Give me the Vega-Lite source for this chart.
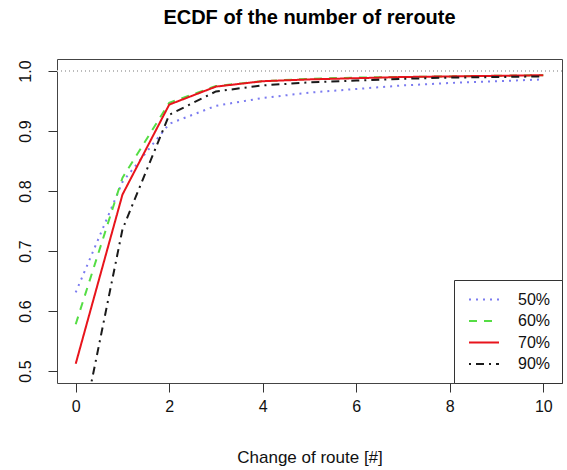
{
  "$schema": "https://vega.github.io/schema/vega-lite/v6.json",
  "width": 505,
  "height": 324,
  "autosize": {"type": "none"},
  "padding": {"left": 57, "top": 59, "right": 5, "bottom": 87},
  "background": "white",
  "title": {
    "text": "ECDF of the number of reroute",
    "font": "Liberation Sans",
    "fontSize": 20,
    "fontWeight": "bold",
    "color": "black",
    "anchor": "middle",
    "offset": 31
  },
  "config": {
    "view": {"stroke": "#444", "strokeWidth": 1},
    "font": "Liberation Sans",
    "axis": {
      "domain": false,
      "grid": false,
      "tickColor": "#333",
      "tickSize": 9,
      "labelColor": "#111",
      "labelFont": "Liberation Sans",
      "labelFontSize": 16,
      "titleFont": "Liberation Sans",
      "titleFontWeight": "normal",
      "titleColor": "#111",
      "titleFontSize": 17
    }
  },
  "data": {
    "values": [
      {"x": 0, "v": 0.631, "s": "50%"}, {"x": 1, "v": 0.815, "s": "50%"}, {"x": 2, "v": 0.912, "s": "50%"}, {"x": 3, "v": 0.942, "s": "50%"}, {"x": 4, "v": 0.955, "s": "50%"}, {"x": 5, "v": 0.964, "s": "50%"}, {"x": 6, "v": 0.970, "s": "50%"}, {"x": 7, "v": 0.976, "s": "50%"}, {"x": 8, "v": 0.980, "s": "50%"}, {"x": 9, "v": 0.983, "s": "50%"}, {"x": 10, "v": 0.986, "s": "50%"},
      {"x": 0, "v": 0.578, "s": "60%"}, {"x": 1, "v": 0.822, "s": "60%"}, {"x": 2, "v": 0.947, "s": "60%"}, {"x": 3, "v": 0.975, "s": "60%"}, {"x": 4, "v": 0.983, "s": "60%"}, {"x": 5, "v": 0.987, "s": "60%"}, {"x": 6, "v": 0.989, "s": "60%"}, {"x": 7, "v": 0.990, "s": "60%"}, {"x": 8, "v": 0.991, "s": "60%"}, {"x": 9, "v": 0.992, "s": "60%"}, {"x": 10, "v": 0.993, "s": "60%"},
      {"x": 0, "v": 0.512, "s": "70%"}, {"x": 1, "v": 0.794, "s": "70%"}, {"x": 2, "v": 0.944, "s": "70%"}, {"x": 3, "v": 0.974, "s": "70%"}, {"x": 4, "v": 0.983, "s": "70%"}, {"x": 5, "v": 0.986, "s": "70%"}, {"x": 6, "v": 0.988, "s": "70%"}, {"x": 7, "v": 0.990, "s": "70%"}, {"x": 8, "v": 0.991, "s": "70%"}, {"x": 9, "v": 0.992, "s": "70%"}, {"x": 10, "v": 0.993, "s": "70%"},
      {"x": 0, "v": 0.352, "s": "90%"}, {"x": 1, "v": 0.736, "s": "90%"}, {"x": 2, "v": 0.927, "s": "90%"}, {"x": 3, "v": 0.966, "s": "90%"}, {"x": 4, "v": 0.976, "s": "90%"}, {"x": 5, "v": 0.981, "s": "90%"}, {"x": 6, "v": 0.984, "s": "90%"}, {"x": 7, "v": 0.987, "s": "90%"}, {"x": 8, "v": 0.989, "s": "90%"}, {"x": 9, "v": 0.990, "s": "90%"}, {"x": 10, "v": 0.991, "s": "90%"}
    ]
  },
  "layer": [
    {
      "mark": {"type": "rule", "color": "#bbbbbb", "strokeDash": [1, 3], "strokeWidth": 1},
      "encoding": {"y": {"datum": 1.0, "type": "quantitative"}}
    },
    {
      "mark": {"type": "line", "strokeWidth": 2, "clip": true},
      "encoding": {
        "x": {
          "field": "x", "type": "quantitative",
          "scale": {"domain": [-0.4, 10.4], "nice": false, "zero": false},
          "axis": {"values": [0, 2, 4, 6, 8, 10], "title": "Change of route [#]", "labelPadding": 6, "titlePadding": 35, "labelBaseline": "top"}
        },
        "y": {
          "field": "v", "type": "quantitative",
          "scale": {"domain": [0.48, 1.02], "nice": false, "zero": false},
          "axis": {"values": [0.5, 0.6, 0.7, 0.8, 0.9, 1.0], "format": ".1f", "title": null, "labelAngle": -90, "labelAlign": "center", "labelBaseline": "bottom", "labelPadding": 15}
        },
        "color": {
          "field": "s", "type": "nominal",
          "scale": {"domain": ["50%", "60%", "70%", "90%"], "range": ["#7b7bf0", "#55dd44", "#e8141c", "#1a1a1a"]},
          "legend": {"title": null, "orient": "bottom-right", "offset": 0, "strokeColor": "#333", "fillColor": "white", "padding": 11, "symbolType": "M-0.6,0H3.4", "symbolSize": 225, "symbolStrokeWidth": 2, "labelFontSize": 16, "labelFont": "Liberation Sans", "labelColor": "#111", "labelOffset": 36, "rowPadding": 4.5, "cornerRadius": 0}
        },
        "strokeDash": {
          "field": "s", "type": "nominal",
          "scale": {"domain": ["50%", "60%", "70%", "90%"], "range": [[2, 5], [8, 7], [1, 0], [2, 5, 8, 5]]},
          "legend": {"title": null, "orient": "bottom-right", "offset": 0, "strokeColor": "#333", "fillColor": "white", "padding": 11, "symbolType": "M-0.6,0H3.4", "symbolSize": 225, "symbolStrokeWidth": 2, "labelFontSize": 16, "labelFont": "Liberation Sans", "labelColor": "#111", "labelOffset": 36, "rowPadding": 4.5, "cornerRadius": 0}
        }
      }
    }
  ]
}
